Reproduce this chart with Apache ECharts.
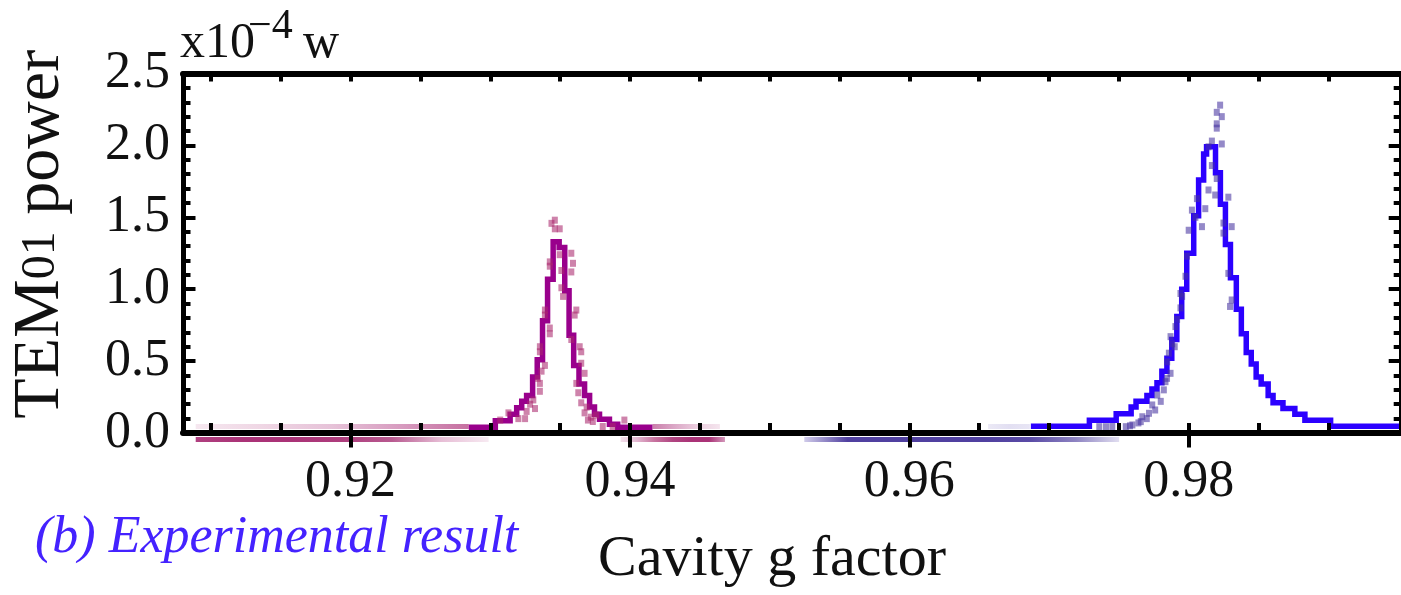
<!DOCTYPE html>
<html><head><meta charset="utf-8">
<script src="https://cdn.jsdelivr.net/npm/echarts@6/dist/echarts.min.js"></script>
<style>html,body{margin:0;padding:0;background:#fff}#c{width:1401px;height:595px}</style>
</head><body><div id="c"></div>
<script>
// ---------- axes ----------
const xRange = [0.908, 0.9952];
const yRange = [0, 2.5];
const yStep = 0.5;
const xLabelTicks = [0.92, 0.94, 0.96, 0.98];
const xMinorTicks = [0.91,0.915,0.92,0.925,0.93,0.935,0.94,0.945,0.95,0.955,0.96,0.965,0.97,0.975,0.98,0.985,0.99];

// ---------- theory (step lines) ----------
const theoryMagentaG = [0.92846,0.93036,0.93142,0.93189,0.93225,0.93260,0.93303,0.93336,0.93374,0.93410,0.93450,0.93493,0.93533,0.93564,0.93597,0.93635,0.93675,0.93711,0.93746,0.93782,0.93853,0.93912,0.94161];
const theoryMagentaP = [0.04,0.085,0.13,0.175,0.22,0.26,0.39,0.51,0.78,1.07,1.33,1.29,0.99,0.68,0.47,0.34,0.26,0.18,0.13,0.096,0.061,0.04,0.04];

const theoryBlueG = [0.9687,0.97289,0.97481,0.97588,0.97623,0.97701,0.97737,0.97773,0.97808,0.97844,0.97879,0.97915,0.97950,0.97986,0.98036,0.98071,0.98107,0.98128,0.98192,0.98227,0.98263,0.98299,0.98341,0.98377,0.98412,0.98448,0.98483,0.98519,0.98569,0.98604,0.98675,0.98760,0.98832,0.99016,0.9952];
const theoryBlueP = [0.047,0.088,0.134,0.18,0.22,0.26,0.306,0.35,0.43,0.52,0.65,0.81,1.0,1.25,1.51,1.76,1.94,1.99,1.81,1.59,1.31,1.08,0.86,0.69,0.56,0.48,0.39,0.34,0.26,0.21,0.17,0.13,0.088,0.047,0.047];

// ---------- experiment (points) ----------
const expMagentaG = [0.93438,0.93462,0.93497,0.93462,0.93426,0.93426,0.93497,0.93509,0.93580,0.93592,0.93580,0.93509,0.93521,0.93391,0.93391,0.93426,0.93426,0.93616,0.93604,0.93580,0.93640,0.93651,0.93355,0.93355,0.93391,0.93367,0.93616,0.93651,0.93675,0.93355,0.93355,0.93308,0.93320,0.93651,0.93675,0.93699,0.93260,0.93249,0.93201,0.93130,0.93071,0.93758,0.93734,0.93805,0.93876,0.93960,0.93285,0.93340,0.93630,0.93690,0.93720];
const expMagentaP = [1.458,1.48,1.42,1.42,1.19,1.16,1.24,1.13,1.25,1.18,1.12,1.01,0.95,0.855,0.82,0.73,0.69,0.855,0.82,0.65,0.60,0.565,0.60,0.565,0.47,0.43,0.345,0.485,0.415,0.345,0.29,0.23,0.17,0.21,0.14,0.09,0.15,0.10,0.10,0.14,0.09,0.125,0.08,0.045,0.045,0.09,0.20,0.38,0.28,0.18,0.11];

const expBlueG = [0.98225,0.98201,0.98237,0.98201,0.98201,0.98166,0.98237,0.98142,0.98166,0.98201,0.98142,0.98190,0.98284,0.98059,0.98023,0.98119,0.98048,0.98095,0.98249,0.98308,0.98249,0.98000,0.97988,0.97977,0.98284,0.98308,0.98296,0.97953,0.97941,0.97917,0.97905,0.97870,0.97882,0.97941,0.97858,0.97846,0.97870,0.97834,0.97822,0.97775,0.97739,0.97716,0.97668,0.97657,0.97597,0.97550,0.97453,0.97408,0.97360,0.97800,0.97760,0.97700,0.97640,0.97580,0.97845,0.97900];
const expBlueP = [2.28,2.23,2.20,2.15,2.12,2.03,2.01,1.99,1.86,1.77,1.69,1.655,1.64,1.63,1.55,1.56,1.50,1.435,1.46,1.435,1.39,1.41,1.23,1.09,1.11,0.925,0.88,0.95,0.87,0.79,0.74,0.67,0.62,0.97,0.555,0.495,0.415,0.357,0.30,0.264,0.195,0.137,0.113,0.079,0.056,0.044,0.045,0.044,0.044,0.22,0.16,0.10,0.07,0.05,0.38,0.60];

// experimental baseline traces (near zero)
const baseMagentaLowG = [0.90891, 0.92988];
const baseMagentaLowG2 = [0.93933, 0.94680];
const baseBlueLowG = [0.95248, 0.97502];
const baseLowP = [-0.045, -0.045];
const baseMagentaHighG = [0.90891, 0.92846];
const baseMagentaHighG2 = [0.94161, 0.94644];
const baseBlueHighG = [0.96564, 0.96863];
const baseHighP = [0.045, 0.045];

const zip = (a, b) => a.map((v, i) => [v, b[i]]);
const FONT = '"Liberation Serif","DejaVu Serif",serif';
const grad = (stops) => ({type:'linear', x:0, y:0, x2:1, y2:0, colorStops: stops.map((c,i)=>({offset:i/(stops.length-1), color:c}))});

const chart = echarts.init(document.getElementById('c'), null, {renderer:'canvas'});

const xBase = {type:'value', min:xRange[0], max:xRange[1], z:10, splitLine:{show:false}};
const yBase = {type:'value', min:yRange[0], max:yRange[1], interval:yStep, z:10, splitLine:{show:false}, minorSplitLine:{show:false}};

const baseline = (data, color, w) => ({type:'line', data, symbol:'none', clip:false, silent:true, z:1,
  lineStyle:{width:w||5, color}});

chart.setOption({
  backgroundColor:'#fff',
  animation:false,
  grid:{left:177.5, top:73.5, width:1226.5, height:359.5, containLabel:false},
  xAxis:[
    Object.assign({}, xBase, {position:'bottom',
      axisLine:{show:true, onZero:false, lineStyle:{color:'#000', width:6}},
      axisTick:{show:true, inside:true, length:10, customValues:xMinorTicks, lineStyle:{color:'#000', width:4}},
      axisLabel:{show:true, customValues:xLabelTicks, formatter:v=>v.toFixed(2), margin:23,
        fontFamily:FONT, fontSize:52, lineHeight:52, color:'#111'},
      name:'Cavity g factor', nameLocation:'middle', nameGap:98,
      nameTextStyle:{fontFamily:FONT, fontSize:58, lineHeight:58, color:'#111', padding:[0,40,0,0]}
    }),
    Object.assign({}, xBase, {position:'top',
      axisLine:{show:true, onZero:false, lineStyle:{color:'#000', width:6}},
      axisTick:{show:true, inside:true, length:8, customValues:xMinorTicks, lineStyle:{color:'#000', width:4}},
      axisLabel:{show:false}}),
    Object.assign({}, xBase, {position:'top',
      axisLine:{show:false},
      axisTick:{show:true, inside:true, length:14.5, customValues:xLabelTicks, lineStyle:{color:'#000', width:4}},
      axisLabel:{show:false}})
  ],
  yAxis:[
    Object.assign({}, yBase, {position:'left',
      axisLine:{show:true, onZero:false, lineStyle:{color:'#000', width:5}},
      axisTick:{show:true, inside:true, length:12.5, lineStyle:{color:'#000', width:4}},
      minorTick:{show:true, splitNumber:5, length:7.5, lineStyle:{color:'#000', width:4}},
      axisLabel:{show:true, formatter:v=>v.toFixed(1), margin:13, fontFamily:FONT, fontSize:52, lineHeight:52, color:'#111'},
      name:'{a|TEM}{b|01}{a| power}', nameLocation:'middle', nameRotate:90, nameGap:109,
      nameTextStyle:{color:'#111', padding:[0,0,0,38], rich:{
        a:{fontFamily:FONT, fontSize:66, lineHeight:66, color:'#111'},
        b:{fontFamily:FONT, fontSize:48, lineHeight:66, color:'#111'}}}
    }),
    Object.assign({}, yBase, {position:'right',
      axisLine:{show:true, onZero:false, lineStyle:{color:'#000', width:5}},
      axisTick:{show:true, inside:true, length:12.3, lineStyle:{color:'#000', width:4}},
      minorTick:{show:true, splitNumber:5, length:7.3, lineStyle:{color:'#000', width:4}},
      axisLabel:{show:false}})
  ],
  graphic:[
    {type:'text', left:180, top:19, style:{text:'x10', font:'50px '+FONT, fill:'#111'}, z:20},
    {type:'text', left:248, top:6, style:{text:'\u22124', font:'42px '+FONT, fill:'#111'}, z:20},
    {type:'text', left:303, top:19, style:{text:'w', font:'50px '+FONT, fill:'#111'}, z:20},
    {type:'text', left:35, top:512, style:{text:'(b) Experimental result', font:'italic 52px '+FONT, fill:'#4422ff'}, z:20}
  ],
  series:[
    baseline(zip(baseMagentaHighG, baseHighP), grad(['#f6e8f0','#efd6e4','#e6c2d8','#d79bbf','#c56e9f'])),
    baseline(zip(baseMagentaHighG2, baseHighP), grad(['#c87aa8','#dba7c6','#ecd0e0','#f6e8f0'])),
    baseline(zip(baseBlueHighG, baseHighP), grad(['#eceaf6','#e2dff2','#e8e6f5'])),
    baseline(zip(baseMagentaLowG, baseLowP), grad(['#b04080','#aa3377','#aa3377','#ae3d7d','#b85a90','#e7bed6','#f8ecf3'])),
    baseline(zip(baseMagentaLowG2, baseLowP), grad(['#f6e6ef','#e3b9d2','#c7739f','#b04581','#aa3377','#aa3377','#d9a6c4'])),
    baseline(zip(baseBlueLowG, baseLowP), grad(['#d8d4ee','#5040a0','#5040a0','#5040a0','#5040a0','#5a4ba6','#8e84c2','#e6e3f3'])),
    {type:'line', data:zip(theoryMagentaG, theoryMagentaP), step:'end', symbol:'none', z:2,
      lineStyle:{width:5.5, color:'#99008c', join:'miter'}},
    {type:'line', data:zip(theoryBlueG, theoryBlueP), step:'end', symbol:'none', z:2,
      lineStyle:{width:5.5, color:'#2b00ff', join:'miter'}},
    {type:'scatter', data:zip(expMagentaG, expMagentaP), symbol:'rect', symbolSize:[6,7], z:3,
      itemStyle:{color:'rgba(170,40,110,0.72)'}},
    {type:'scatter', data:zip(expBlueG, expBlueP), symbol:'rect', symbolSize:[6,7], z:3,
      itemStyle:{color:'rgba(70,50,160,0.72)'}}
  ]
});
</script></body></html>
